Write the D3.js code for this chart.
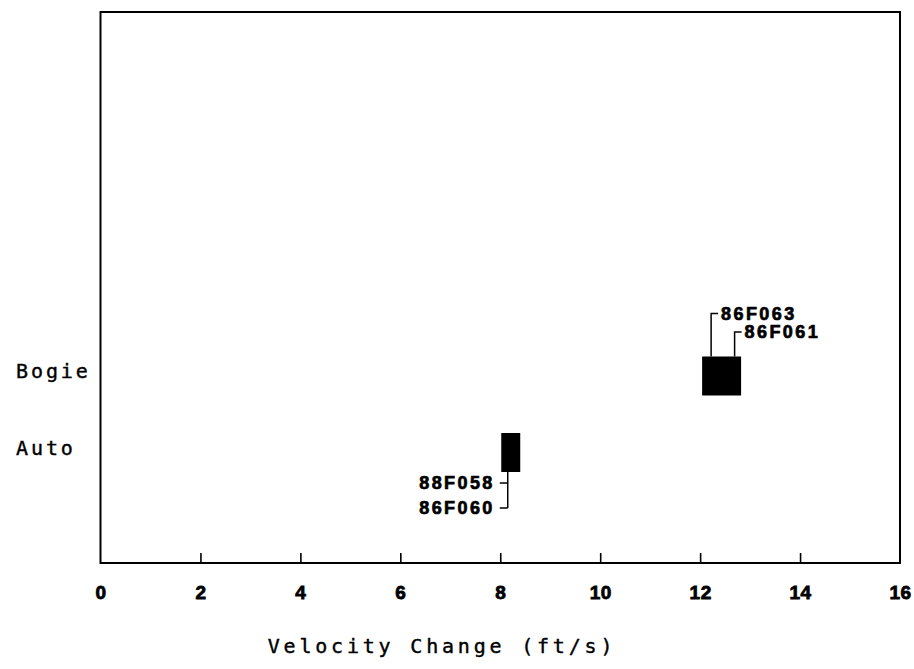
<!DOCTYPE html>
<html>
<head>
<meta charset="utf-8">
<script src="https://cdn.jsdelivr.net/npm/d3@7"></script>
<style>
  html, body { margin: 0; padding: 0; background: #fff; }
  svg { display: block; }
</style>
</head>
<body>
<svg id="chart" width="914" height="669"></svg>
<script>
// Vehicle types on the vertical axis
const categories = ["Auto", "Bogie"];
// Range of velocity change (ft/s) covered by each vehicle type's tests
const barLow  = [8.02, 12.04];
const barHigh = [8.40, 12.82];
// Individual crash tests and where each one falls
const testIds      = ["86F063", "86F061", "88F058", "86F060"];
const testCategory = ["Bogie", "Bogie", "Auto", "Auto"];
const testValue    = [12.22, 12.69, 8.15, 8.15];
// Axis ticks
const xTicks = [0, 2, 4, 6, 8, 10, 12, 14, 16];

const svg = d3.select("#chart");
const frame = { left: 100.5, right: 900, top: 12, bottom: 563 };

const x = d3.scaleLinear().domain([0, 16]).range([frame.left, frame.right]);
const y = d3.scalePoint().domain(categories).range([452.5, 376]);
const barH = 39;

// Plot frame
svg.append("rect")
  .attr("x", frame.left).attr("y", frame.top)
  .attr("width", frame.right - frame.left)
  .attr("height", frame.bottom - frame.top)
  .attr("fill", "none").attr("stroke", "#000").attr("stroke-width", 2);

// Bottom axis with inward ticks
const xAxis = d3.axisBottom(x)
  .tickValues(xTicks)
  .tickFormat(d3.format("d"))
  .tickSizeInner(-10)
  .tickSizeOuter(0)
  .tickPadding(23);

const gx = svg.append("g")
  .attr("transform", `translate(0,${frame.bottom})`)
  .call(xAxis);
gx.select(".domain").remove();
gx.selectAll(".tick line")
  .attr("stroke", "#000").attr("stroke-width", 1.6)
  .filter(d => d === 0 || d === 16).remove();
gx.selectAll(".tick text")
  .attr("fill", "#000")
  .attr("stroke", "#000")
  .attr("stroke-width", 0.8)
  .style("font-family", "'Liberation Sans', Arial, sans-serif")
  .style("font-weight", "bold")
  .style("font-size", "19px")
  .style("letter-spacing", "0.5px");

// Shared style for the monospaced labels
const monoFont = (sel, spacing) => sel
  .style("font-family", "'DejaVu Sans Mono', monospace")
  .style("font-size", "20px")
  .style("letter-spacing", spacing + "px")
  .attr("fill", "#000")
  .attr("stroke", "#000")
  .attr("stroke-width", 0.4);

// Category labels
svg.append("g").selectAll("text")
  .data(categories)
  .join("text")
  .attr("x", 16)
  .attr("y", d => y(d) + 2)
  .call(monoFont, 2.9)
  .text(d => d);

// Axis title
svg.append("text")
  .attr("x", 442)
  .attr("y", 653)
  .attr("text-anchor", "middle")
  .call(monoFont, 3.8)
  .text("Velocity Change (ft/s)");

// Range bars
svg.append("g").selectAll("rect")
  .data(categories)
  .join("rect")
  .attr("x", (d, i) => x(barLow[i]))
  .attr("width", (d, i) => x(barHigh[i]) - x(barLow[i]))
  .attr("y", d => y(d) - barH / 2)
  .attr("height", barH)
  .attr("fill", "#000");

// Test labels with leader lines
const labelFont = g => g
  .style("font-family", "'Liberation Sans', Arial, sans-serif")
  .style("font-weight", "bold")
  .style("font-size", "18px")
  .style("letter-spacing", "2.4px")
  .attr("fill", "#000")
  .attr("stroke", "#000")
  .attr("stroke-width", 0.7);

const tests = testIds.map((id, i) => ({ id, cat: testCategory[i], v: testValue[i], i }));

// Tests above the Bogie bar: stacked upward, text to the right
const upper = tests.filter(t => t.cat === "Bogie");
upper.forEach((t, k) => {
  const lx = x(t.v);
  const top = y(t.cat) - barH / 2;
  const ly = top - 43 + k * 18.5;
  const g = svg.append("g");
  g.append("path")
    .attr("d", `M${lx},${top} V${ly} H${lx + 7}`)
    .attr("fill", "none").attr("stroke", "#000").attr("stroke-width", 1.5);
  g.append("text")
    .attr("x", lx + 10)
    .attr("y", ly + 6)
    .call(labelFont)
    .text(t.id);
});

// Tests below the Auto bar: one leader, text to the left
const lower = tests.filter(t => t.cat === "Auto");
const lx = x(lower[0].v);
const bottom = y("Auto") + barH / 2;
const rows = lower.map((t, k) => bottom + 11 + k * 25);
svg.append("path")
  .attr("d", `M${lx},${bottom} V${rows[rows.length - 1]} ` +
    rows.map(r => `M${lx},${r} H${lx - 8}`).join(" "))
  .attr("fill", "none").attr("stroke", "#000").attr("stroke-width", 1.5);
lower.forEach((t, k) => {
  svg.append("text")
    .attr("x", lx - 13)
    .attr("y", rows[k] + 6)
    .attr("text-anchor", "end")
    .call(labelFont)
    .text(t.id);
});
</script>
</body>
</html>
